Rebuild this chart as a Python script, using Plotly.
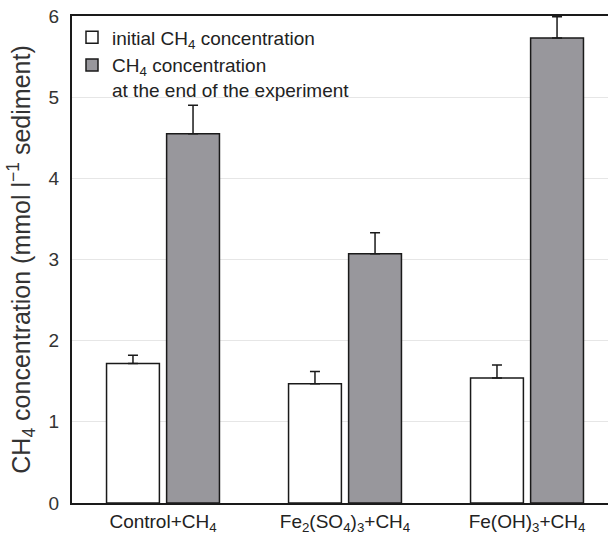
import plotly.graph_objects as go

categories = ["Control+CH<sub>4</sub>",
              "Fe<sub>2</sub>(SO<sub>4</sub>)<sub>3</sub>+CH<sub>4</sub>",
              "Fe(OH)<sub>3</sub>+CH<sub>4</sub>"]
initial_vals = [1.72, 1.47, 1.54]
initial_err = [0.10, 0.15, 0.16]
end_vals = [4.55, 3.07, 5.73]
end_err = [0.35, 0.26, 0.26]
y_ticks = [0, 1, 2, 3, 4, 5, 6]

FONT = "Liberation Sans, Arial, Helvetica, sans-serif"
EDGE = "#1a1a1a"

fig = go.Figure()
fig.add_trace(go.Bar(
    x=list(range(len(categories))), y=initial_vals,
    name="initial CH<sub>4</sub> concentration",
    marker=dict(color="white", line=dict(color=EDGE, width=1.5)),
    error_y=dict(type="data", array=initial_err, arrayminus=[0]*3, symmetric=False,
                 color=EDGE, thickness=1.5, width=5),
))
fig.add_trace(go.Bar(
    x=list(range(len(categories))), y=end_vals,
    name="CH<sub>4</sub> concentration<br>at the end of the experiment",
    marker=dict(color="#98979c", line=dict(color=EDGE, width=1.5)),
    error_y=dict(type="data", array=end_err, arrayminus=[0]*3, symmetric=False,
                 color=EDGE, thickness=1.5, width=5),
))

fig.update_layout(
    width=608, height=534,
    margin=dict(l=72, r=0, t=16, b=31),
    paper_bgcolor="white", plot_bgcolor="white",
    font=dict(family=FONT, color="#222"),
    barmode="group", bargap=0.34, bargroupgap=0.12,
    showlegend=True,
    legend=dict(x=0.0, y=0.995, xanchor="left", yanchor="top",
                bgcolor="rgba(0,0,0,0)", font=dict(size=19, family=FONT, color="#222"),
                valign="top", tracegroupgap=2, itemwidth=30),
    xaxis=dict(range=[-0.5, 2.445], tickmode="array",
               tickvals=list(range(len(categories))), ticktext=categories,
               showline=True, linecolor=EDGE, linewidth=2, mirror=True,
               ticks="", showgrid=False, zeroline=False,
               tickfont=dict(size=19, family=FONT, color="#222")),
    yaxis=dict(range=[0, 6], tickvals=y_ticks, showline=True, linecolor=EDGE, linewidth=2,
               ticks="", showgrid=True, gridcolor="#e6e6e6", gridwidth=1, zeroline=False,
               tickfont=dict(size=19, family=FONT, color="#333"), ticklabelstandoff=7,
               title=dict(text="CH<sub>4</sub> concentration (mmol l<sup>−1</sup> sediment)",
                          font=dict(size=25, family=FONT, color="#333"), standoff=11)),
)

fig.write_html("out.html")
